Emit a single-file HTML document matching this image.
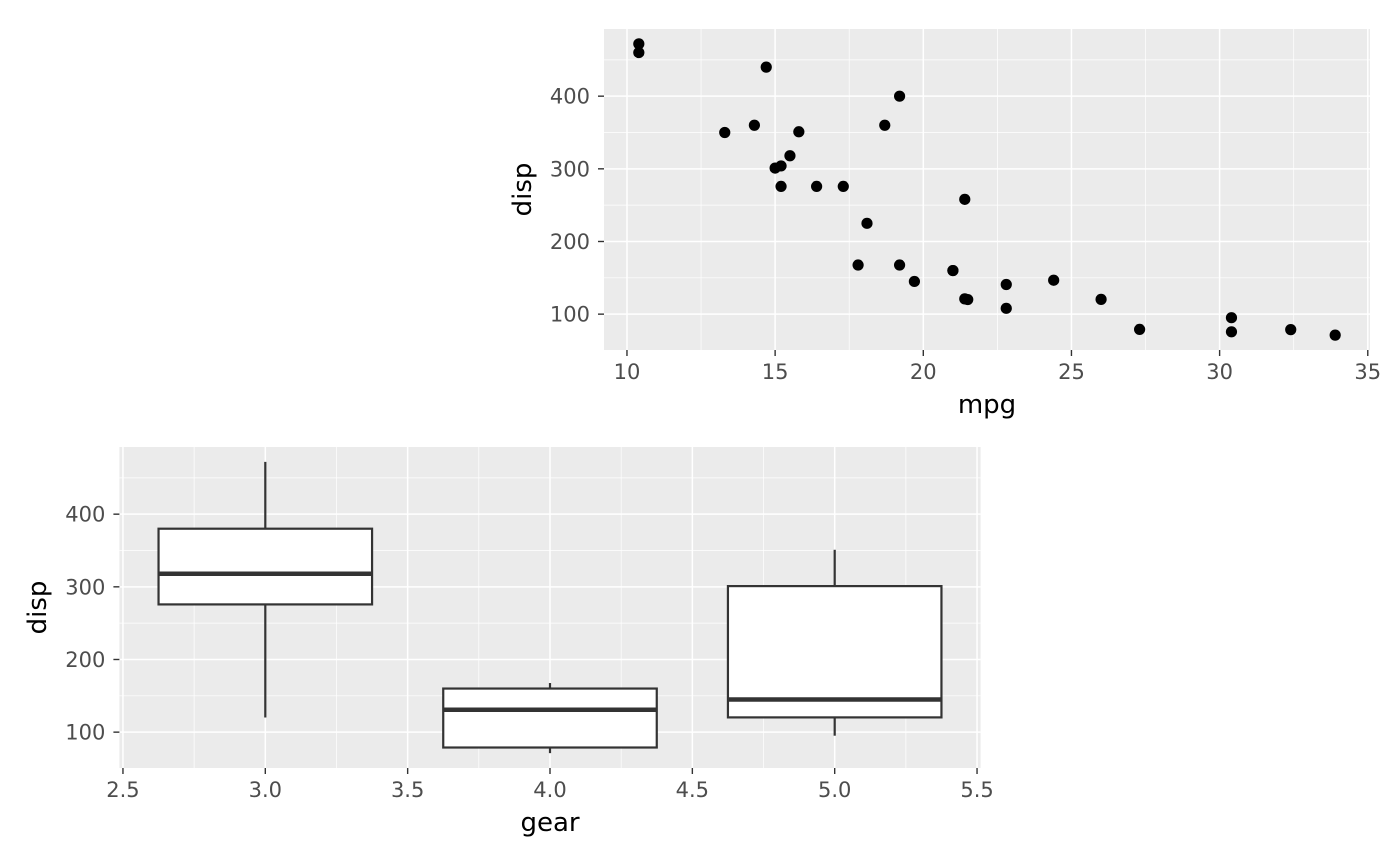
<!DOCTYPE html>
<html><head><meta charset="utf-8"><style>
body{margin:0;background:#fff}
svg{display:block;font-family:"DejaVu Sans","Liberation Sans",sans-serif}
</style></head><body>
<svg id="c" width="1400" height="866"></svg>
<script>
const mpgValues=[21,21,22.8,21.4,18.7,18.1,14.3,24.4,22.8,19.2,17.8,16.4,17.3,15.2,10.4,10.4,14.7,32.4,30.4,33.9,21.5,15.5,15.2,13.3,19.2,27.3,26,30.4,15.8,19.7,15,21.4];
const dispValues=[160,160,108,258,360,225,360,146.7,140.8,167.6,167.6,275.8,275.8,275.8,472,460,440,78.7,75.7,71.1,120.1,318,304,350,400,79,120.3,95.1,351,145,301,121];
const gearCategories=[3,4,5];
const boxLow=[120.1,71.1,95.1];
const boxQ1=[275.8,78.85,120.3];
const boxMedian=[318,130.9,145];
const boxQ3=[380,160,301];
const boxHigh=[472,167.6,351];
const mpgTicks=[10,15,20,25,30,35];
const gearTicks=[2.5,3.0,3.5,4.0,4.5,5.0,5.5];
const dispTicks=[100,200,300,400];

const NS="http://www.w3.org/2000/svg";
const svg=document.getElementById('c');
function el(t,a,p){const e=document.createElementNS(NS,t);for(const k in a)e.setAttribute(k,a[k]);(p||svg).appendChild(e);return e;}
function txt(s,a,p){const e=el('text',a,p);e.textContent=s;return e;}

function panel(name,L,R,T,B,xd0,xd1,xTicks,xDec,xTitle,xTitleX,yTitleX){
  const g=el('g',{});
  
  
  const X=v=>L+(v-xd0)/(xd1-xd0)*(R-L);
  const yd0=50.65,yd1=492.45;
  const Y=v=>B-(v-yd0)/(yd1-yd0)*(B-T);
  const bg=el('rect',{x:L,y:T,width:R-L,height:B-T,fill:'#ebebeb'},g);
  
  
  for(let i=0;i<xTicks.length-1;i++){const m=(xTicks[i]+xTicks[i+1])/2;el('line',{x1:X(m),x2:X(m),y1:T,y2:B,stroke:'#fff','stroke-width':0.7},g);}
  [150,250,350,450].forEach(v=>el('line',{x1:L,x2:R,y1:Y(v),y2:Y(v),stroke:'#fff','stroke-width':0.7},g));
  xTicks.forEach(v=>{el('line',{x1:X(v),x2:X(v),y1:T,y2:B,stroke:'#fff','stroke-width':1.5},g);
    el('line',{x1:X(v),x2:X(v),y1:B,y2:B+6,stroke:'#333','stroke-width':1.4},g);
    const t=txt(v.toFixed(xDec),{x:X(v),y:B+29,'text-anchor':'middle','font-size':21,fill:'#4d4d4d'},g);
    });
  dispTicks.forEach(v=>{el('line',{x1:L,x2:R,y1:Y(v),y2:Y(v),stroke:'#fff','stroke-width':1.5},g);
    el('line',{x1:L-6,x2:L,y1:Y(v),y2:Y(v),stroke:'#333','stroke-width':1.4},g);
    const t=txt(v,{x:L-14,y:Y(v)+7.5,'text-anchor':'end','font-size':21,fill:'#4d4d4d'},g);
    });
  const xt=txt(xTitle,{x:xTitleX,y:B+63,'text-anchor':'middle','font-size':26,fill:'#000'},g);
  
  const yc=(T+B)/2;
  const yt=txt('disp',{x:yTitleX,y:yc,'text-anchor':'middle','font-size':26,fill:'#000',transform:`rotate(-90 ${yTitleX} ${yc})`},g);
  
  return {g,X,Y};
}

const scatterPanel=panel('scatter-panel',604,1370,29,350,9.225,35.075,mpgTicks,0,'mpg',987,531);
mpgValues.forEach((m,i)=>{const c=el('circle',{cx:scatterPanel.X(m),cy:scatterPanel.Y(dispValues[i]),r:5.6,fill:'#000'},scatterPanel.g);
  });

const boxPanel=panel('boxplot-panel',119.4,980.6,447,768,2.4875,5.5125,gearTicks,1,'gear',550,46);
gearCategories.forEach((gc,i)=>{
  const b=el('g',{},boxPanel.g);
  
  
  const x0=boxPanel.X(gc-0.375),x1=boxPanel.X(gc+0.375),xc=boxPanel.X(gc);
  el('line',{x1:xc,x2:xc,y1:boxPanel.Y(boxHigh[i]),y2:boxPanel.Y(boxQ3[i]),stroke:'#333','stroke-width':2.2},b);
  el('line',{x1:xc,x2:xc,y1:boxPanel.Y(boxLow[i]),y2:boxPanel.Y(boxQ1[i]),stroke:'#333','stroke-width':2.2},b);
  el('rect',{x:x0,y:boxPanel.Y(boxQ3[i]),width:x1-x0,height:boxPanel.Y(boxQ1[i])-boxPanel.Y(boxQ3[i]),fill:'#fff',stroke:'#333','stroke-width':2.2},b);
  el('line',{x1:x0,x2:x1,y1:boxPanel.Y(boxMedian[i]),y2:boxPanel.Y(boxMedian[i]),stroke:'#333','stroke-width':4.5},b);
});
</script>
</body></html>
